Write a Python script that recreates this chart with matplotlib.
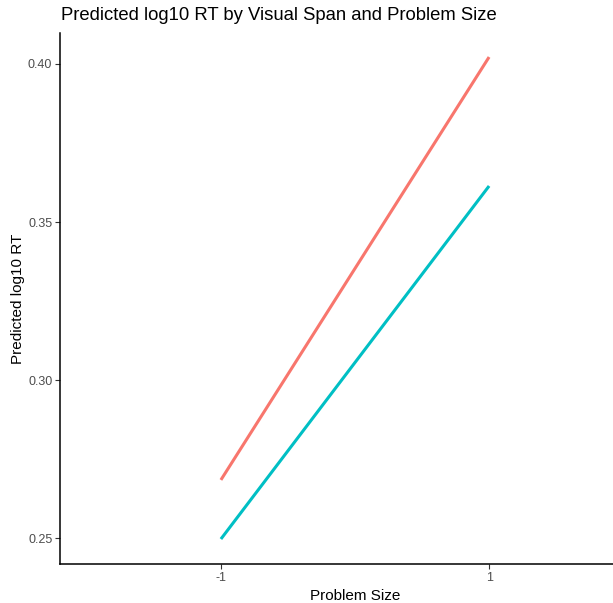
import matplotlib
matplotlib.use('Agg')
import matplotlib.pyplot as plt

plt.rcParams['font.family'] = ['Liberation Sans', 'DejaVu Sans']

problem_size = [-1, 1]
span_low = [0.2684, 0.4022]
span_high = [0.2497, 0.3614]
x_ticks = [-1, 1]
y_ticks = [0.25, 0.30, 0.35, 0.40]

fig = plt.figure(figsize=(6.13, 6.03), dpi=100)
# panel runs past the right edge (legend cropped away in the original)
ax = fig.add_axes([60/613, 39/603, 590/613, 531/603])

ax.plot(problem_size, span_low, color='#F8766D', lw=2.2, solid_capstyle='butt')
ax.plot(problem_size, span_high, color='#00BFC4', lw=2.2, solid_capstyle='butt')

ax.set_xlim(-2.2, 2.2)
ax.set_ylim(0.2418, 0.4098)
ax.set_xticks(x_ticks)
ax.set_xticklabels(['-1', '1'])
ax.set_yticks(y_ticks)
ax.set_yticklabels(['0.25', '0.30', '0.35', '0.40'])

for s in ['top', 'right']:
    ax.spines[s].set_visible(False)
for s in ['left', 'bottom']:
    ax.spines[s].set_linewidth(1.1)
    ax.spines[s].set_color('black')
ax.tick_params(axis='both', length=3.5, width=0.8, color='#333333',
               labelsize=9, labelcolor='#4D4D4D', pad=2)

ax.set_xlabel('Problem Size', fontsize=11, labelpad=4)
ax.set_ylabel('Predicted log10 RT', fontsize=11, labelpad=2.5)
fig.text(61/613, 1 - 16/603, 'Predicted log10 RT by Visual Span and Problem Size',
         fontsize=13.3, ha='left', va='center')

fig.savefig('out.png', dpi=100)
